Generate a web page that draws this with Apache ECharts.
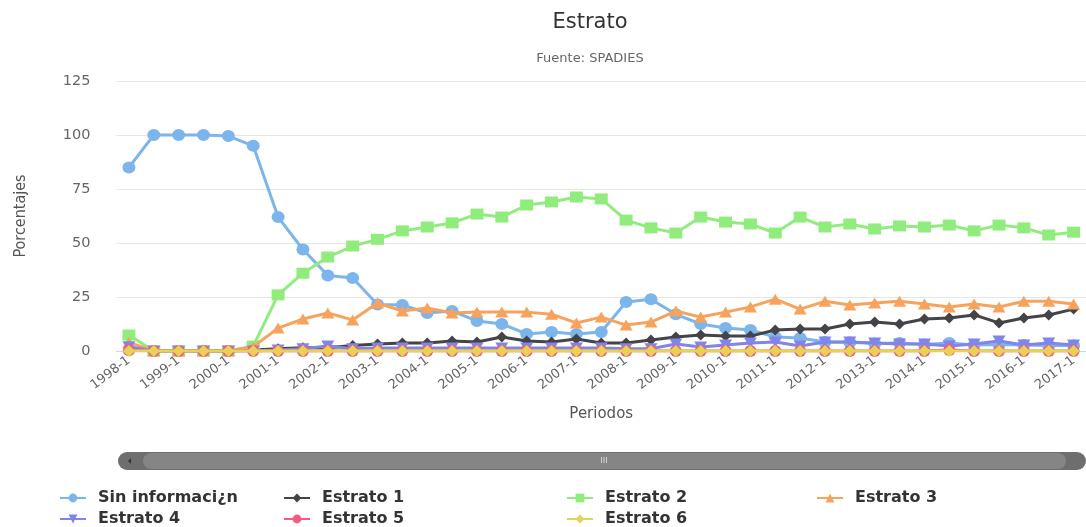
<!DOCTYPE html>
<html><head><meta charset="utf-8">
<script src="https://cdn.jsdelivr.net/npm/echarts@6/dist/echarts.min.js"></script>
<style>html,body{margin:0;padding:0;background:#fff}#c{width:1086px;height:527px}</style>
</head><body><div id="c"></div>
<script>
const categories = [];
for (let y = 1998; y <= 2017; y++) { categories.push(y + '-1'); if (y < 2017) categories.push(y + '-2'); }

const sinInfo  = [85,100,100,100,99.5,95,62,47,35,33.8,21.5,21.3,17.6,18.5,13.9,12.5,7.9,8.8,7.9,8.8,22.7,24,17,12.5,10.6,9.7,6.5,6,4.2,4,3.5,3.7,3,3.7,2.8,3,2.8,2.5,2.5];
const estrato1 = [1.5,0,0,0,0,0.5,1,1.5,1.5,2.5,3.2,3.7,3.7,4.6,4.2,6.5,4.6,4.2,5.6,3.7,3.7,5.1,6.5,7.4,6.9,6.9,9.7,10.2,10.2,12.5,13.4,12.5,14.8,15.3,16.7,13,15.3,16.7,19.4];
const estrato2 = [7.4,0,0,0,0,2.3,26,36,43.5,48.6,51.7,55.6,57.4,59.3,63.4,62,67.6,69,71.3,70.4,60.6,57,54.6,62,59.7,58.8,54.6,62,57.4,58.8,56.5,57.9,57.4,58.3,55.6,58.3,57,53.7,55];
const estrato3 = [4,0,0,0,0,2,10.6,14.8,17.6,14.4,22.2,18.5,19.9,17.6,18,18,18,17,13,15.7,12,13.4,18.5,15.7,18,20.4,24,19.4,23,21.3,22.2,23,21.8,20.4,21.8,20.4,23,23,21.8];
const estrato4 = [2,0,0,0,0,0,0.5,1,2.3,1,1.4,1.4,1.4,1.4,1.4,1.4,1.4,1.4,1.4,1.4,1,1,3.2,1.9,2.8,3.7,4.2,2.3,4.2,4.2,3.7,3.2,3.2,2.3,3.2,4.6,2.8,3.7,2.8];
const estrato5 = [0.3,0,0,0,0,0,0,0,0,0,0,0,0,0,0,0,0,0,0,0,0,0,0,0,0,0,0,0,0,0,0,0,0,0.5,0,0,0,0,0];
const estrato6 = [0,0,0,0,0,0,0,0,0,0,0,0,0,0,0,0,0,0,0,0,0,0,0,0,0,0,0,0,0,0,0,0,0,0,0,0,0,0,0];
const yTicks = [0,25,50,75,100,125];

const names = ['Sin informaci¿n','Estrato 1','Estrato 2','Estrato 3','Estrato 4','Estrato 5','Estrato 6'];
const datas = [sinInfo,estrato1,estrato2,estrato3,estrato4,estrato5,estrato6];
const colors = ['#7cb5ec','#434348','#90ed7d','#f7a35c','#8085e9','#f15c80','#e4d354'];
const symbols = ['circle','diamond','rect','triangle','path://M0,0 L10,0 L5,10 Z','circle','diamond'];
const sizes = [[13,12],[11,11],[13,11],[13,11],[13,11],[12,12],[12,12]];
const legendPos = [[59,490],[283,490],[566,490],[816,490],[59,511],[283,511],[566,511]];

const chart = echarts.init(document.getElementById('c'), null, {renderer:'canvas'});
const legendFont = {fontFamily:'DejaVu Sans', fontWeight:'bold', fontSize:16, color:'#333', padding:[0,0,0,7]};
chart.setOption({
  animation:false,
  color:colors,
  title:{text:'Estrato', subtext:'Fuente: SPADIES', left:585, top:7, textAlign:'center', itemGap:19,
    textStyle:{fontFamily:'DejaVu Sans', fontSize:21, fontWeight:'normal', color:'#333'},
    subtextStyle:{fontFamily:'DejaVu Sans', fontSize:13, color:'#666'}},
  legend:names.map((n,i)=>({left:legendPos[i][0], top:legendPos[i][1], itemWidth:26, itemHeight:11,
    padding:0, data:[n], textStyle:legendFont})),
  grid:{left:116.5, right:-5.5, top:81, bottom:176},
  xAxis:{type:'category', data:categories, boundaryGap:true,
    name:'Periodos', nameLocation:'middle', nameGap:56,
    nameTextStyle:{fontFamily:'DejaVu Sans', fontSize:15, color:'#555'},
    axisLine:{lineStyle:{color:'#ccd6eb'}},
    axisTick:{alignWithLabel:true, interval:1, length:9, lineStyle:{color:'#ccd6eb'}},
    axisLabel:{interval:1, rotate:37, fontFamily:'DejaVu Sans', fontSize:13, color:'#666', margin:8}},
  yAxis:{type:'value', min:0, max:125, interval:25,
    name:'Porcentajes', nameLocation:'middle', nameGap:88, nameRotate:90,
    nameTextStyle:{fontFamily:'DejaVu Sans Condensed, Liberation Sans, sans-serif', fontSize:16, color:'#555'},
    axisLabel:{fontFamily:'DejaVu Sans', fontSize:14.5, color:'#666', margin:26,
      formatter:v=>yTicks.includes(v)?String(v):''},
    splitLine:{lineStyle:{color:'#e6e6e6'}}},
  graphic:[
    {type:'rect', shape:{x:118, y:452, width:968, height:18, r:9}, style:{fill:'#6e6e6e'}},
    {type:'rect', shape:{x:143, y:453, width:923, height:16, r:8}, style:{fill:'#858585'}},
    {type:'polygon', shape:{points:[[128,461],[131,458],[131,464]]}, style:{fill:'#333'}},
    {type:'text', style:{x:604, y:461, text:'III', fill:'#ddd', fontSize:9, align:'center', verticalAlign:'middle'}}
  ],
  series:datas.map((d,i)=>({
    name:names[i], type:'line', data:d, symbol:symbols[i], symbolSize:sizes[i],
    showAllSymbol:true, lineStyle:{width:3, color:colors[i]},
    itemStyle:{color:colors[i]}, z:2+i
  }))
});
</script></body></html>
